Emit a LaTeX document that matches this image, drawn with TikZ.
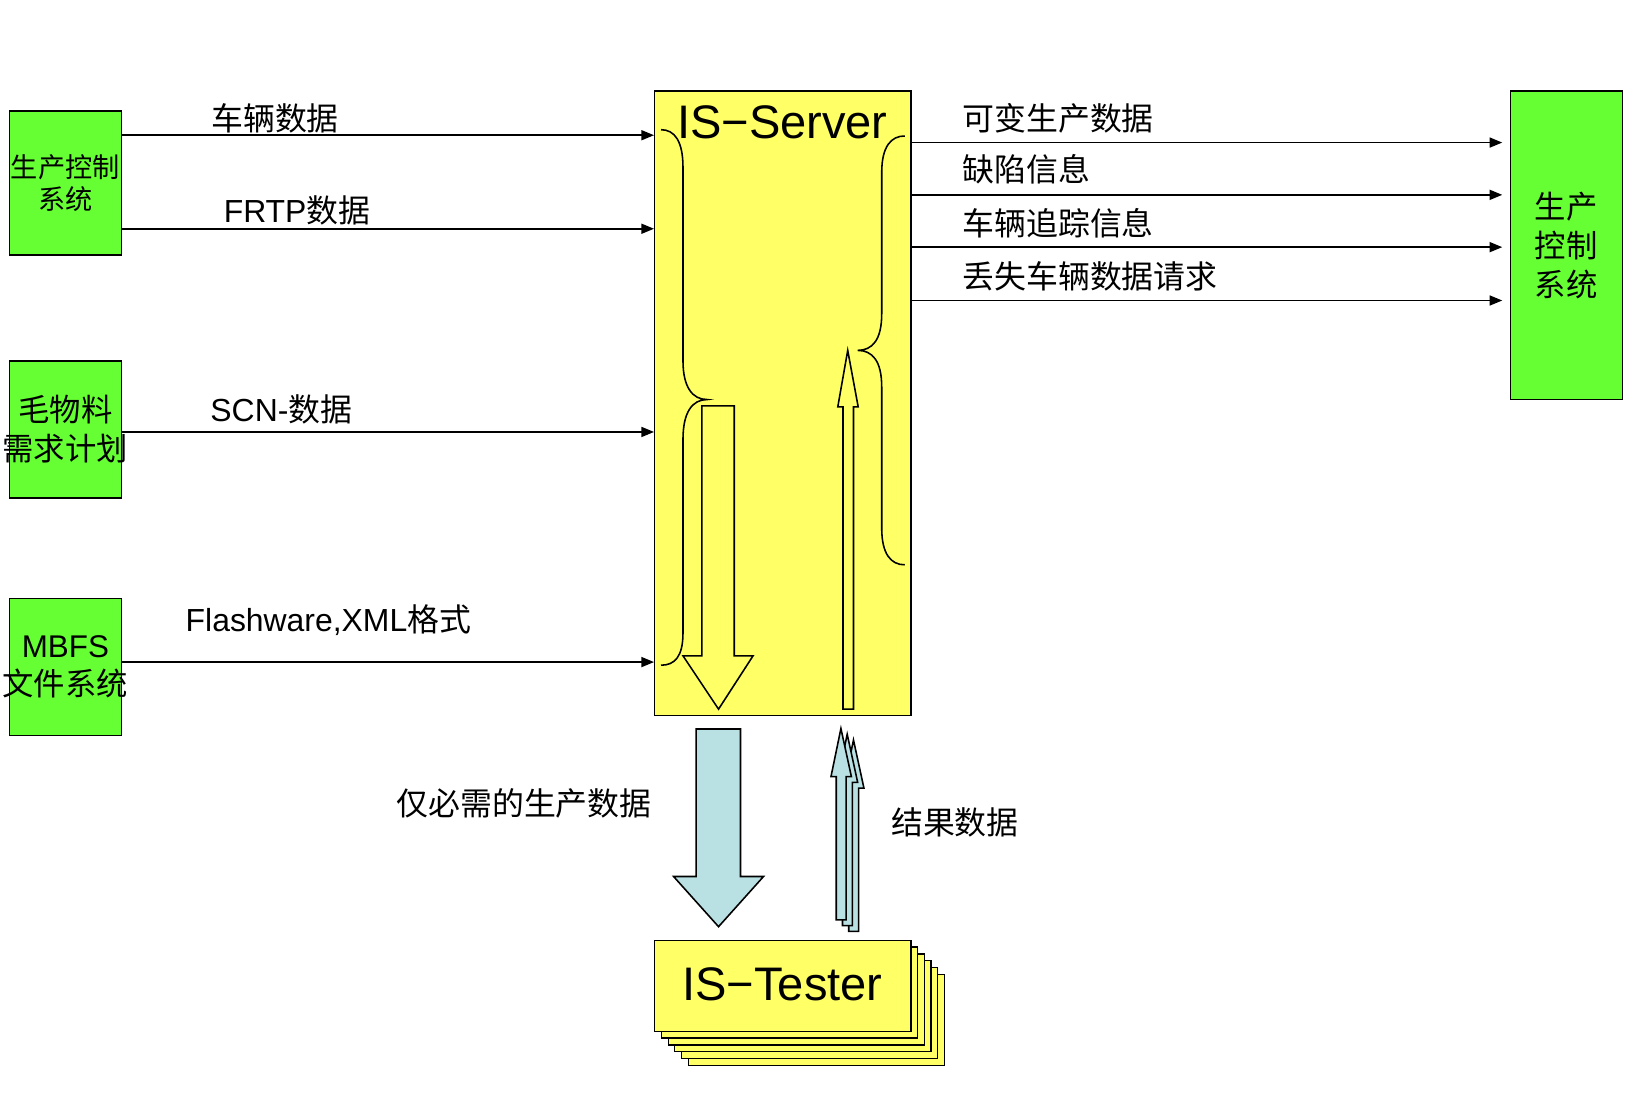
\documentclass[tikz,border=0pt]{standalone}
\usepackage{fontspec}
\setmainfont{Liberation Sans}
\newfontfamily\cjk{Noto Sans CJK SC}
\usetikzlibrary{arrows.meta,calc}
\definecolor{boxgreen}{HTML}{66FF33}
\definecolor{srvyellow}{HTML}{FFFF66}
\definecolor{flowblue}{HTML}{B9E0E3}
\begin{document}
\begin{tikzpicture}[x=1pt,y=-1pt,
  every node/.style={inner sep=0pt},
  greenbox/.style={draw=black,line width=1.4pt,fill=boxgreen,minimum width=107pt,minimum height=#1},
  yellowbox/.style={draw=black,line width=1.4pt,fill=srvyellow,minimum width=245pt,minimum height=#1},
  flow/.style={draw=black,line width=1.5pt,-{Triangle[length=12pt,width=9.5pt]}},
  lab/.style={font=\fontsize{30.5}{36}\selectfont},
  boxtext/.style={align=center,font=\fontsize{30}{37}\selectfont\cjk},
  title/.style={font=\fontsize{45}{50}\selectfont},
  hollow/.style={draw=black,line width=1.5pt,fill=srvyellow,line join=miter},
  bluearrow/.style={draw=black,line width=1.5pt,fill=flowblue,line join=miter},
  bracestyle/.style={draw=black,line width=1.5pt}]
\useasboundingbox (0,0) rectangle (1568,1054);

% left boxes
\node[greenbox=138pt] (pcs1) at (62.5,175) {};
\node[boxtext,font=\fontsize{26}{31}\selectfont\cjk] (pcs1t) at (62.5,175) {生产控制\\系统};
\node[greenbox=131pt] (mrp) at (62.5,410.5) {};
\node[boxtext] (mrpt) at (62.5,410.5) {毛物料\\需求计划};
\node[greenbox=131pt] (mbfs) at (62.5,637.5) {};
\node[boxtext] (mbfst) at (62.5,637.5) {{\rmfamily MBFS}\\文件系统};

% right box
\node[greenbox=295pt] (pcs2) at (1497.5,234.5) {};
\node[boxtext,font=\fontsize{30}{37.5}\selectfont\cjk] (pcs2t) at (1497.5,234.5) {生产\\控制\\系统};

% server
\node[yellowbox=597pt] (server) at (748.5,385.5) {};
\node[title] (servert) at (748,117) {IS−Server};

% braces
\draw[bracestyle] (632,124) .. controls (645,124) and (653,135) .. (653,160) -- (653,345)
  .. controls (653,370) and (662,382) .. (676,382)
  .. controls (662,382) and (653,394) .. (653,420) -- (653,605)
  .. controls (653,628) and (645,636) .. (632,636);
\draw[bracestyle] (865,130) .. controls (852,130) and (843,140) .. (843,165) -- (843,300)
  .. controls (843,325) and (834,335) .. (820,335)
  .. controls (834,335) and (843,345) .. (843,370) -- (843,505)
  .. controls (843,530) and (852,540) .. (865,540);

% hollow arrows inside server
\draw[hollow] (671,388) -- (702,388) -- (702,627) -- (720,627) -- (687,678) -- (653,627) -- (671,627) -- cycle;
\draw[hollow] (810.5,335) -- (820.5,389) -- (816,389) -- (816,678) -- (806,678) -- (806,389) -- (801,389) -- cycle;

% tester stack
\foreach \k in {5,4,3,2,1}{
  \node[yellowbox=87pt,line width=1.2pt] (tback\k) at (748.5+6.4*\k,942.5+6.5*\k) {};
}
\node[yellowbox=87pt] (tester) at (748.5,942.5) {};
\node[title] (testert) at (748,941) {IS−Tester};

% blue arrows
\draw[bluearrow] (665.5,697) -- (708,697) -- (708,838) -- (730,838) -- (687,886) -- (644,838) -- (665.5,838) -- cycle;
\foreach \k in {2,1,0}{
  \begin{scope}[shift={(6*\k,5.5*\k)}]
    \draw[bluearrow] (804,696.5) -- (814,742.5) -- (809,742.5) -- (809,879.5) -- (799.5,879.5) -- (799.5,742.5) -- (794.5,742.5) -- cycle;
  \end{scope}
}

% input connectors
\draw[flow] ($(pcs1.north east)+(0,24)$) -- ($(pcs1.north east -| server.west)+(0,24)$);
\draw[flow] ($(pcs1.south east)+(0,-26)$) -- ($(pcs1.south east -| server.west)+(0,-26)$);
\draw[flow] ($(mrp.east)+(0,2.5)$) -- ($(mrp.east -| server.west)+(0,2.5)$);
\draw[flow] ($(mbfs.east)+(0,-4.5)$) -- ($(mbfs.east -| server.west)+(0,-4.5)$);

% output connectors
\foreach \dy in {50,100,150,201}{
  \draw[flow] ($(server.north east)+(0,\dy)$) -- ($(server.north east -| pcs2.west)+(-7,\dy)$);
}

% labels
\node[lab] (l1) at (263,113) {\cjk 车辆数据};
\node[lab] (l2) at (284,201) {FRTP{\cjk 数据}};
\node[lab] (l3) at (269,391) {SCN-{\cjk 数据}};
\node[lab] (l4) at (314,593) {Flashware,XML{\cjk 格式}};
\node[lab,anchor=west] (r1) at (920,113) {\cjk 可变生产数据};
\node[lab,anchor=west] (r2) at (920,162) {\cjk 缺陷信息};
\node[lab,anchor=west] (r3) at (920,213) {\cjk 车辆追踪信息};
\node[lab,anchor=west] (r4) at (920,264) {\cjk 丢失车辆数据请求};
\node[lab] (b1) at (501,768) {\cjk 仅必需的生产数据};
\node[lab] (b2) at (913,786) {\cjk 结果数据};
\end{tikzpicture}
\end{document}
